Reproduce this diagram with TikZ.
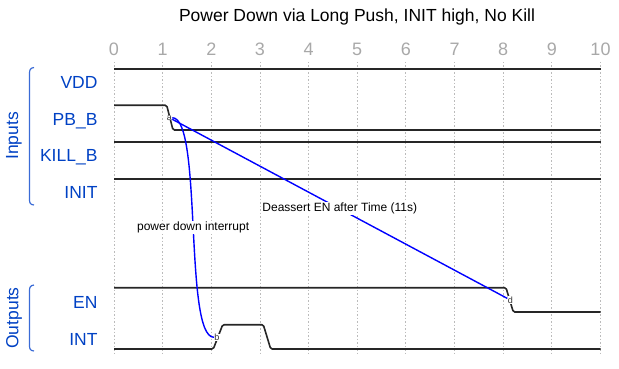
\documentclass[tikz,border=0pt]{standalone}
\usepackage{fontspec}
\setmainfont{Liberation Sans}

\definecolor{lanecol}{HTML}{0041C4}
\definecolor{groupcol}{HTML}{3A6BD6}
\definecolor{gridcol}{HTML}{BBBBBB}
\definecolor{numcol}{HTML}{A8A8A8}

\tikzset{
  sig/.style={draw=black!85, line width=1.6pt, rounded corners=1.5pt},
  gridline/.style={draw=gridcol, line width=0.9pt, dash pattern=on 1.5pt off 2pt},
  lane/.style={text=lanecol, anchor=base east, font=\fontsize{17.5}{20}\selectfont},
  group/.style={text=lanecol, rotate=90, font=\fontsize{17.5}{20}\selectfont},
  brace/.style={draw=groupcol, line width=1.2pt},
  tick/.style={text=numcol, font=\fontsize{18}{20}\selectfont},
  evt/.style={fill=white, inner sep=0.3pt, text=black!80, font=\fontsize{9}{9}\selectfont},
  edgeline/.style={draw=blue, line width=1.4pt},
  edgelbl/.style={fill=white, inner sep=1pt, font=\fontsize{12}{13}\selectfont}
}

\begin{document}
\begin{tikzpicture}[x=1pt,y=-1pt]
  \useasboundingbox (0,0) rectangle (619,369);

  % title
  \node [font=\fontsize{17.5}{20}\selectfont] (title) at (357,17) {Power Down via Long Push, INIT high, No Kill};

  % time grid
  \foreach \i in {0,...,10} {
    \draw [gridline] ({114+48.65*\i},62) -- ({114+48.65*\i},353);
    \node [tick] (t\i) at ({114+48.65*\i},49) {\i};
  }

  % lane names
  \node [lane] (vdd) at (101,88.3) {VDD};
  \node [lane] (pbb) at (101,125.0) {PB\_B};
  \node [lane] (killb) at (101,161.7) {KILL\_B};
  \node [lane] (init) at (101,198.4) {INIT};
  \node [lane] (en) at (101,308.5) {EN};
  \node [lane] (int) at (101,345.2) {INT};

  % groups
  \node [group] (inputs) at (14,136) {Inputs};
  \node [group] (outputs) at (14,318) {Outputs};
  \draw [brace] (34,67.5) .. controls (30,68) and (29.5,70) .. (29.5,74) -- (29.5,199)
    .. controls (29.5,203) and (30,204.5) .. (34,205);
  \draw [brace] (34,285) .. controls (30,285.5) and (29.5,287.5) .. (29.5,291) -- (29.5,345)
    .. controls (29.5,349) and (30,350.5) .. (34,351);

  % waves
  \draw [sig] (114,69) -- (600.5,69);
  \draw [sig] (114,105.3) -- (166.7,105.3) -- (173,130) -- (600.5,130);
  \draw [sig] (114,142) -- (600.5,142);
  \draw [sig] (114,178.7) -- (600.5,178.7);
  \draw [sig] (114,287.7) -- (506,287.7) -- (513.3,312) -- (600.5,312);
  \draw [sig] (114,349) -- (213.3,349) -- (222.7,324.7) -- (263.3,324.7)
    -- (270.7,349) -- (600.5,349);

  % events
  \node [evt] (a) at (169.3,117.7) {a};
  \node [evt] (b) at (217,337.3) {b};
  \node [evt] (d) at (510.3,300) {d};

  \draw [edgeline] (a) .. controls +(33.4pt,0) and +(-33.4pt,0) .. (b)
    node [edgelbl, pos=0.5] {power down interrupt};
  \draw [edgeline] (a) -- (d)
    node [edgelbl, midway] {Deassert EN after Time (11s)};
\end{tikzpicture}
\end{document}
